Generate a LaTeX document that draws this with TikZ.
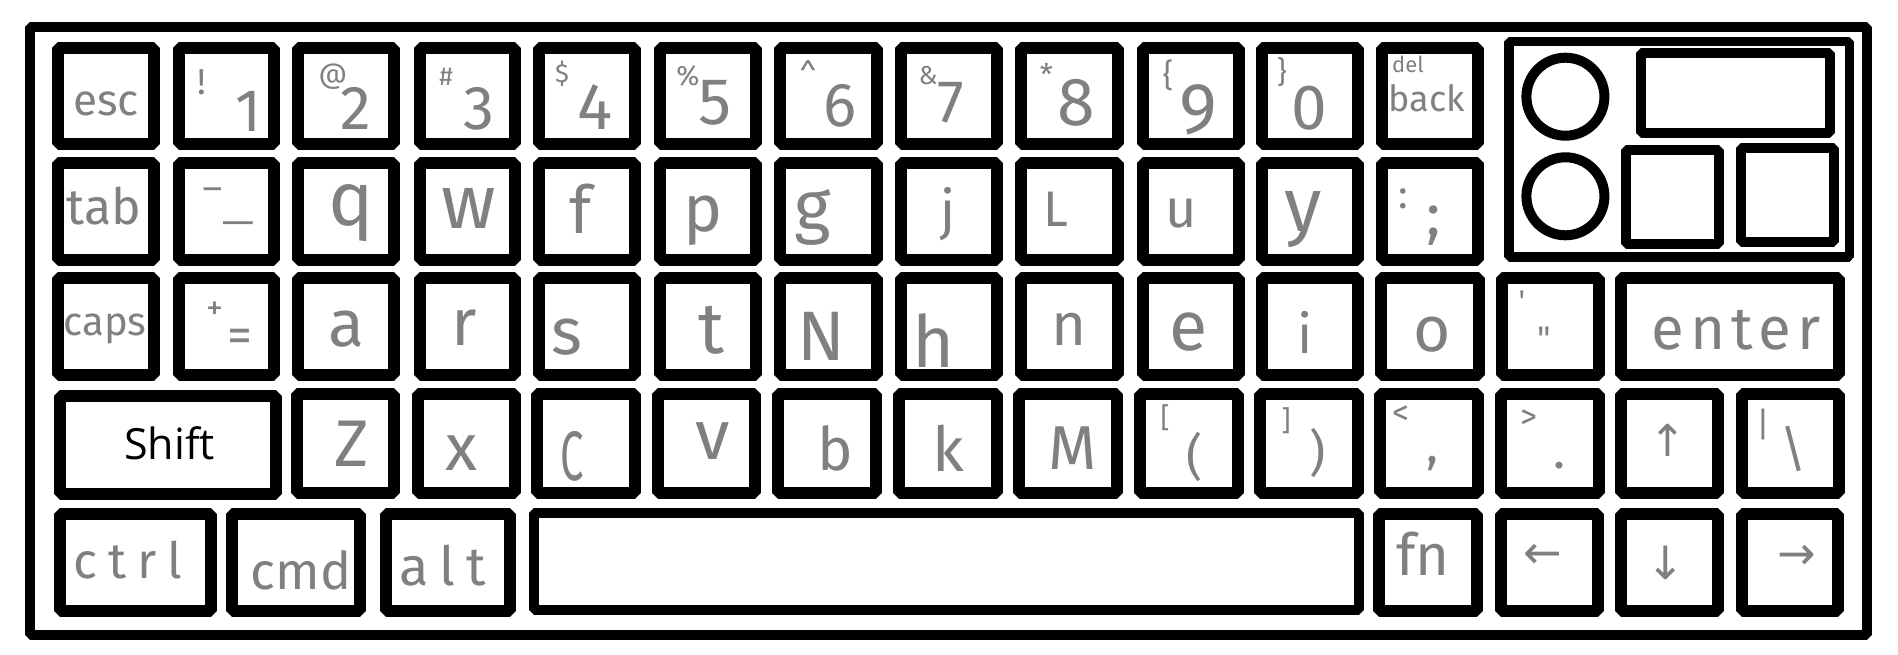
\documentclass[tikz,border=0pt]{standalone}
\usepackage{graphicx}
\usepackage{fontspec}
\newfontfamily\hand{Fira Sans}
\newfontfamily\shiftfont{Open Sans}
\newfontfamily\arrowfont{DejaVu Sans}
\definecolor{hgray}{gray}{0.5}
\tikzset{
  keyb/.style={draw=black, fill=white, line width=12pt, line join=bevel, inner sep=0pt},
  hw/.style={inner sep=0pt, text=hgray, font=\hand\fontsize{#1}{#1}\selectfont},
  aw/.style={inner sep=0pt, text=hgray, font=\arrowfont\fontsize{#1}{#1}\selectfont},
}
% key: name, x1, y1, x2, y2 (outer edges, pixels, y downwards)
\newcommand\kb[5]{\node[keyb, minimum width={#4-#2-12}, minimum height={#5-#3-12}] (#1) at ({(#2+#4)/2},{(#3+#5)/2}) {};}
% label: style, name, offset, key, text
\newcommand\kl[5]{\node[#1] (#2) at ([shift={(#3)}]#4.center) {#5};}
\begin{document}
\begin{tikzpicture}[x=1pt,y=-1pt]
\useasboundingbox (0,0) rectangle (1898,655);
\fill[white] (0,0) rectangle (1898,655);
% outer frame
\draw[line width=10pt, line join=bevel] (29.7,27.5) rectangle (1867,635);

% ---------- row 1
\kb{kesc}{52}{42.5}{160}{150.5}
\kb{k1}{173}{42.5}{280}{150.5}
\kb{k2}{292}{42.5}{400}{150.5}
\kb{k3}{414}{42.5}{521}{150.5}
\kb{k4}{533}{42.5}{641}{150.5}
\kb{k5}{654}{42.5}{762}{150.5}
\kb{k6}{774}{42.5}{883}{150.5}
\kb{k7}{895}{42.5}{1003}{150.5}
\kb{k8}{1015}{42.5}{1124}{150.5}
\kb{k9}{1137}{42.5}{1245}{150.5}
\kb{k0}{1256}{42.5}{1364}{150.5}
\kb{kback}{1376}{42.5}{1484}{150.5}

% ---------- row 2
\kb{ktab}{52}{157.5}{160}{266}
\kb{kminus}{173}{157.5}{280}{266}
\kb{kq}{292}{157.5}{400}{266}
\kb{kw}{414}{157.5}{521}{266}
\kb{kf}{533}{157.5}{641}{266}
\kb{kp}{654}{157.5}{762}{266}
\kb{kg}{774}{157.5}{883}{266}
\kb{kj}{895}{157.5}{1003}{266}
\kb{kl}{1015}{157.5}{1124}{266}
\kb{ku}{1137}{157.5}{1245}{266}
\kb{ky}{1256}{157.5}{1364}{266}
\kb{ksemi}{1376}{157.5}{1484}{266}

% ---------- row 3
\kb{kcaps}{52}{271.5}{160}{381}
\kb{kplus}{173}{271.5}{280}{381}
\kb{ka}{292}{271.5}{400}{381}
\kb{kr}{414}{271.5}{521}{381}
\kb{ks}{533}{271.5}{641}{381}
\kb{kt}{654}{271.5}{762}{381}
\kb{kd}{774}{271.5}{883}{381}
\kb{kh}{895}{271.5}{1003}{381}
\kb{kn}{1015}{271.5}{1124}{381}
\kb{ke}{1137}{271.5}{1245}{381}
\kb{ki}{1256}{271.5}{1364}{381}
\kb{ko}{1375}{271.5}{1485}{381}
\kb{kquote}{1496}{271.5}{1605}{381}
\kb{kenter}{1615}{271.5}{1845}{381}

% ---------- row 4
\kb{kshift}{54}{390}{282}{500}
\kb{kz}{291}{388}{400}{499}
\kb{kx}{412}{388}{521}{499}
\kb{kc}{531}{388}{641}{499}
\kb{kv}{652}{388}{761}{499}
\kb{kb}{772}{388}{882}{499}
\kb{kk}{893}{388}{1003}{499}
\kb{km}{1013}{388}{1123}{499}
\kb{klbr}{1134}{388}{1244}{499}
\kb{krbr}{1254}{388}{1364}{499}
\kb{kcomma}{1374}{388}{1484}{499}
\kb{kdot}{1495}{388}{1605}{499}
\kb{kup}{1615}{388}{1724}{499}
\kb{kbslash}{1736}{388}{1845}{499}

% ---------- row 5
\kb{kctrl}{54}{508}{217}{617}
\kb{kcmd}{226}{508}{366}{617}
\kb{kalt}{380}{508}{516}{617}
\node[keyb, line width=10pt, minimum width=825, minimum height=97.5] (kspace) at (946.5,561.6) {};
\kb{kfn}{1373}{508}{1483}{617}
\kb{kleft}{1495}{508}{1604}{617}
\kb{kdown}{1615}{508}{1724}{617}
\kb{kright}{1736}{508}{1844}{617}

% ---------- right panel
\node[keyb, line width=9.5pt, minimum width=340.5, minimum height=215.5] (panel) at (1679,149.2) {};
\node[draw, fill=white, circle, line width=10pt, minimum size=78, inner sep=0pt] (knob1) at (1565.4,96.7) {};
\node[draw, fill=white, circle, line width=10pt, minimum size=78, inner sep=0pt] (knob2) at (1565.4,196.3) {};
\node[keyb, line width=10pt, minimum width=188.3, minimum height=80] (wide) at (1735.5,93.3) {};
\node[keyb, line width=10pt, minimum width=93, minimum height=94.3] (sq1) at (1672.5,197.2) {};
\node[keyb, line width=10pt, minimum width=93, minimum height=94] (sq2) at (1787.5,195.3) {};

% ---------- labels row 1
\kl{hw=44}{lesc}{0,7.5}{kesc}{esc}
\kl{hw=36}{l1s}{-24.7,-14.5}{k1}{!}
\kl{hw=60}{l1}{21.5,14.5}{k1}{1}
\kl{hw=28}{l2s}{-13,-19.5}{k2}{@}
\kl{hw=62}{l2}{10,11.5}{k2}{2}
\kl{hw=26}{l3s}{-21.5,-19.5}{k3}{\#}
\kl{hw=62}{l3}{11.5,12.5}{k3}{3}
\kl{hw=26}{l4s}{-25,-22.5}{k4}{\$}
\kl{hw=66}{l4}{8,10.5}{k4}{4}
\kl{hw=28}{l5s}{-20,-20.5}{k5}{\%}
\kl{hw=66}{l5}{7,6.5}{k5}{5}
\kl{hw=32}{l6s}{-20.5,-22.5}{k6}{\textasciicircum}
\kl{hw=62}{l6}{11.5,9.5}{k6}{6}
\kl{hw=26}{l7s}{-21,-20.5}{k7}{\&}
\kl{hw=60}{l7}{2,6.5}{k7}{7}
\kl{hw=30}{l8s}{-23,-22}{k8}{*}
\kl{hw=68}{l8}{7,6}{k8}{8}
\kl{hw=32}{l9s}{-23,-21.5}{k9}{\{}
\kl{hw=72}{l9}{7,13.5}{k9}{9}
\kl{hw=30}{l0s}{-28,-24}{k0}{\}}
\kl{hw=64}{l0}{-1,12}{k0}{0}
\kl{hw=22}{ldel}{-22,-32.5}{kback}{del}
\kl{hw=36}{lback}{-3,1.5}{kback}{back}

% ---------- labels row 2
\kl{hw=50}{ltab}{-2,-6}{ktab}{tab}
\kl{hw=36}{lminus}{-14,-18}{kminus}{\scalebox{1.7}[1]{-}}
\kl{hw=36}{lunder}{12,10}{kminus}{\scalebox{1.7}[1]{\_}}
\kl{hw=76}{lq}{5.5,1}{kq}{q}
\kl{hw=76}{lw}{1.5,-3}{kw}{w}
\kl{hw=66}{lf}{-6,-3}{kf}{f}
\kl{hw=66}{lp}{-5,9}{kp}{p}
\kl{hw=70}{lg}{-15.5,6}{kg}{g}
\kl{hw=54}{lj}{-1,2}{kj}{j}
\kl{hw=50}{ll}{-13.5,-2}{kl}{L}
\kl{hw=54}{lu}{-10,2}{ku}{u}
\kl{hw=76}{ly}{-7,8}{ky}{y}
\kl{hw=40}{lcolon}{-27,-13}{ksemi}{:}
\kl{hw=60}{lsemi}{4,14}{ksemi}{;}

% ---------- labels row 3
\kl{hw=40}{lcaps}{-1,3}{kcaps}{caps}
\kl{hw=34}{lplus}{-11.5,-16}{kplus}{+}
\kl{hw=50}{leq}{13.5,15}{kplus}{=}
\kl{hw=66}{la}{0,3}{ka}{a}
\kl{hw=66}{lr}{-3.5,1}{kr}{r}
\kl{hw=66}{ls}{-20,11}{ks}{s}
\kl{hw=72}{lt}{3,4}{kt}{t}
\kl{hw=70}{ld}{-7.5,10}{kd}{N}
\kl{hw=72}{lh}{-15,14}{kh}{h}
\kl{hw=60}{ln}{-0.5,3}{kn}{n}
\kl{hw=70}{le}{-2,6}{ke}{e}
\kl{hw=54}{li}{-5,6}{ki}{i}
\kl{hw=64}{lo}{2,8}{ko}{o}
\kl{hw=30}{lapos}{-28.5,-25}{kquote}{'}
\kl{hw=34}{ldquote}{-6.5,13}{kquote}{"}
\kl{hw=60}{lenter}{6,4}{kenter}{e\kern6pt n\kern6pt t\kern6pt e\kern6pt r}

% ---------- labels row 4
\node[inner sep=0pt, font=\shiftfont\fontsize{43}{43}\selectfont] (lshift) at ([shift={(1.5,-1.5)}]kshift.center) {Shift};
\kl{hw=66}{lz}{6,0.5}{kz}{Z}
\kl{hw=66}{lx}{-5.5,10}{kx}{x}
\kl{hw=70}{lc}{-13.5,13}{kc}{\scalebox{0.6}[1]{C}}
\kl{hw=70}{lv}{6.5,-2}{kv}{v}
\kl{hw=60}{lb}{8,5}{kb}{b}
\kl{hw=62}{lk}{0,5}{kk}{k}
\kl{hw=62}{lm}{5,5}{km}{M}
\kl{hw=28}{llbrs}{-24,-26}{klbr}{[}
\kl{hw=50}{llbr}{6,13}{klbr}{(}
\kl{hw=28}{lrbrs}{-23,-23}{krbr}{]}
\kl{hw=50}{lrbr}{9,9}{krbr}{)}
\kl{hw=34}{lless}{-28,-28.5}{kcomma}{<}
\kl{hw=50}{lcomma}{3.5,20}{kcomma}{,}
\kl{hw=34}{lgreater}{-21.5,-24}{kdot}{>}
\kl{hw=50}{ldot}{9,22}{kdot}{.}
\kl{aw=44}{lup}{-1.5,-3}{kup}{↑}
\kl{hw=34}{lbar}{-27.5,-19}{kbslash}{|}
\kl{hw=50}{lbslash}{2.5,5}{kbslash}{\textbackslash}

% ---------- labels row 5
\kl{hw=50}{lctrl}{-7.5,-2.5}{kctrl}{c\kern11pt t\kern11pt r\kern11pt l}
\kl{hw=52}{lcmd}{5,7.5}{kcmd}{cmd}
\kl{hw=54}{lalt}{-5,3.5}{kalt}{a\kern11pt l\kern11pt t}
\kl{hw=58}{lfn}{-5,-9}{kfn}{fn}
\kl{aw=46}{lleft}{-6.5,-6.5}{kleft}{←}
\kl{aw=46}{ldown}{-3.5,0.5}{kdown}{↓}
\kl{aw=46}{lright}{7,-5.5}{kright}{→}
\end{tikzpicture}
\end{document}
